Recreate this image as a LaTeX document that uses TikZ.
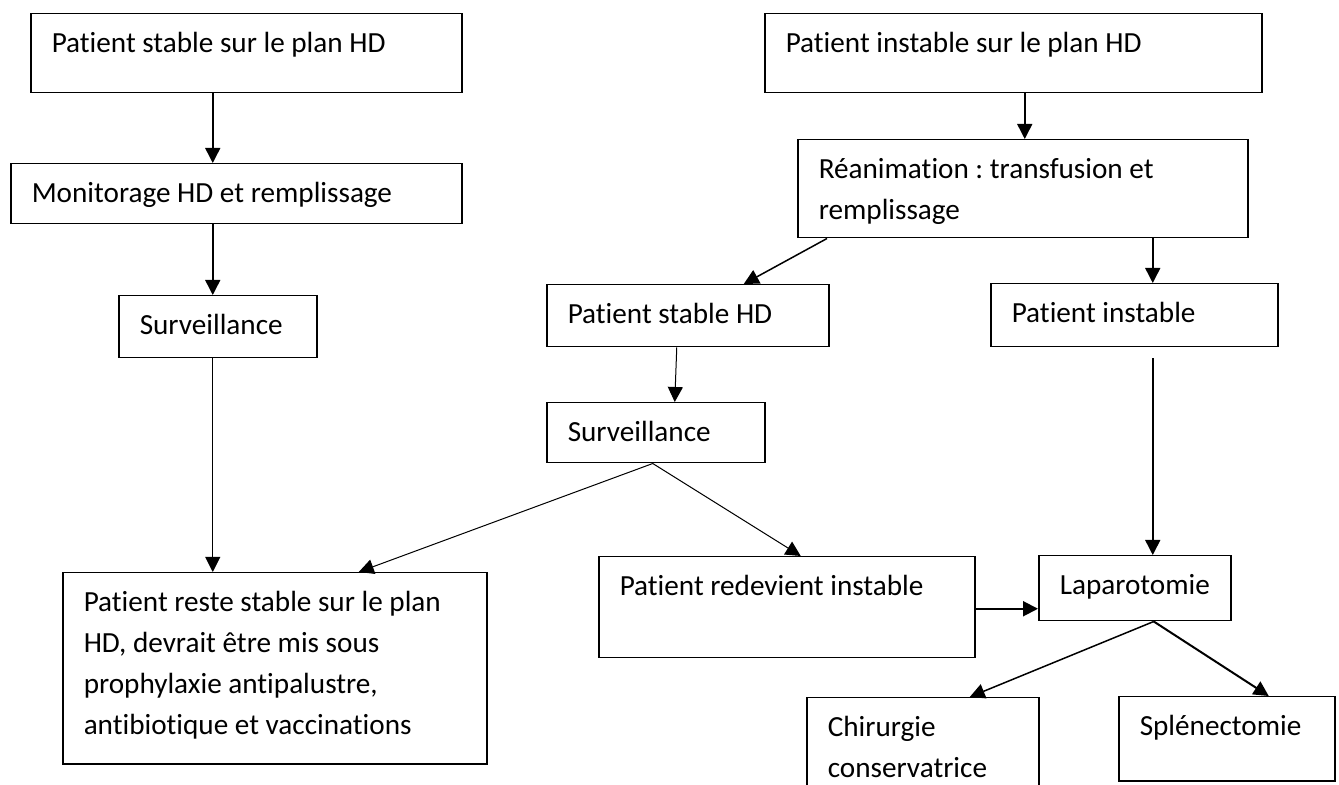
\documentclass[tikz,border=0pt]{standalone}
\usepackage{fontspec}
\setmainfont{Carlito}[Ligatures=NoCommon]
\usepackage{tikz}
\usetikzlibrary{arrows.meta}
\hyphenpenalty=10000
\frenchspacing

\begin{document}
\begin{tikzpicture}[x=0.5pt, y=-0.5pt,
    box/.style={draw, line width=0.75pt, anchor=north west, align=flush left,
        inner xsep=10.5pt, inner ysep=0pt, text height=19.25pt,
        font=\fontsize{14.6}{20.5}\selectfont},
    arr/.style={-{Triangle[length=7.5pt, width=7.5pt]}, line width=0.75pt},
    thin arr/.style={arr, line width=0.5pt}]

    \useasboundingbox (0,0) rectangle (1339,785);

    % Left column: patient stable
    \node[box, text width=194.5pt, text depth=20.25pt] (stplan) at (30,13) {Patient stable sur le plan HD};
    \node[box, text width=204.5pt, text depth=10.75pt] (monit) at (10,163) {Monitorage HD et remplissage};
    \node[box, text width=78pt, text depth=11.75pt] (survA) at (118,295) {Surveillance};
    \node[box, text width=191pt, text depth=76.25pt] (reste) at (62,572)
        {Patient reste stable sur le plan\\HD, devrait être mis sous\\prophylaxie antipalustre,\\antibiotique et vaccinations};

    \draw[arr] ([xshift=-16.75pt]stplan.south) -- ([xshift=-11.75pt]monit.north);
    \draw[arr] ([xshift=-11.75pt]monit.south) -- ([xshift=-2.5pt]survA.north);
    \draw[thin arr] ([xshift=-2.5pt]survA.south) -- ([xshift=-31pt]reste.north);

    % Right column: patient instable
    \node[box, text width=227.5pt, text depth=20.25pt] (instplan) at (764,13) {Patient instable sur le plan HD};
    \node[box, text width=204pt, text depth=29.75pt] (reanim) at (797,139) {Réanimation : transfusion et\\remplissage};
    \node[box, text width=120pt, text depth=11.75pt] (sthd) at (546,284) {Patient stable HD};
    \node[box, text width=122.5pt, text depth=12.25pt] (inst) at (990,283) {Patient instable};
    \node[box, text width=88pt, text depth=10.75pt] (survB) at (546,402) {Surveillance};
    \node[box, text width=167pt, text depth=31.25pt] (redev) at (598,556) {Patient redevient instable};
    \node[box, text width=75pt, text depth=13.25pt] (lapa) at (1038,555) {Laparotomie};
    \node[box, text width=95pt, text depth=32.25pt] (chir) at (806,697) {Chirurgie\\conservatrice};
    \node[box, text width=87pt, text depth=22.75pt] (splen) at (1118,696) {Splénectomie};

    \draw[arr] ([xshift=5.75pt]instplan.south) -- ([xshift=1pt]reanim.north);
    \draw[arr] ([xshift=15pt]reanim.south west) -- ([xshift=28pt]sthd.north);
    \draw[arr] ([xshift=65pt]reanim.south) -- ([xshift=9.25pt]inst.north);
    \draw[thin arr] ([xshift=-5.5pt]sthd.south) -- ([xshift=9.5pt]survB.north);
    \draw[thin arr] ([xshift=-1.5pt]survB.south) -- ([xshift=42pt]reste.north);
    \draw[thin arr] ([xshift=-1.5pt]survB.south) -- ([xshift=7pt]redev.north);
    \draw[arr] ([xshift=9.25pt, yshift=-5.5pt]inst.south) -- ([xshift=9pt]lapa.north);
    \draw[arr, line width=1pt] ([yshift=-0.75pt]redev.east) -- ([yshift=-10.25pt]lapa.west);

    % Laparotomie: two options
    \draw[arr] ([xshift=9.5pt]lapa.south) -- ([xshift=23.5pt]chir.north);
    \draw[arr, line width=1pt] ([xshift=9.5pt]lapa.south) -- ([xshift=21pt]splen.north);

\end{tikzpicture}
\end{document}
